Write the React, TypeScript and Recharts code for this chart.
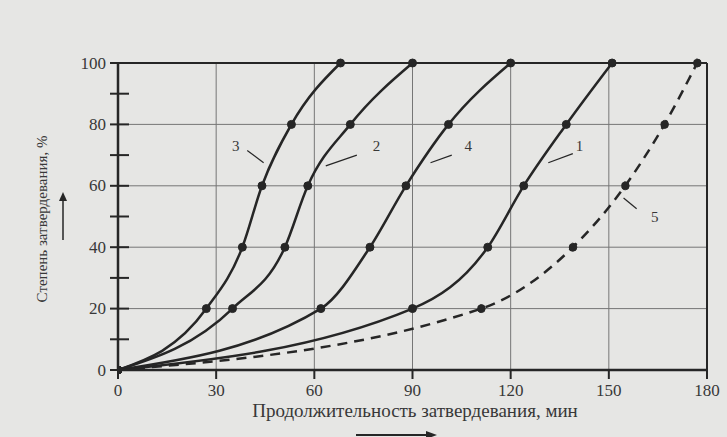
import React from "react";
import {
  LineChart,
  Line,
  XAxis,
  YAxis,
  ReferenceLine,
  ReferenceDot,
} from "recharts";

// степень затвердевания, % (одинаковая для всех кривых)
const degree = [0, 20, 40, 60, 80, 100];

// продолжительность, мин — для каждой кривой
const curve1 = [0, 90, 113, 124, 137, 151];
const curve2 = [0, 35, 51, 58, 71, 90];
const curve3 = [0, 27, 38, 44, 53, 68];
const curve4 = [0, 62, 77, 88, 101, 120];
const curve5 = [0, 111, 139, 155, 167, 177];

const xTicks = [0, 30, 60, 90, 120, 150, 180];
const yTicks = [0, 10, 20, 30, 40, 50, 60, 70, 80, 90, 100];
const gridX = [30, 60, 90, 120, 150];
const gridY = [20, 40, 60, 80];

// подписи кривых: номер, позиция текста, выноска
const labels = [
  { name: "3", tx: 36, ty: 73, x1: 39.5, y1: 71.5, x2: 44.5, y2: 67.5 },
  { name: "2", tx: 79, ty: 73, x1: 73, y1: 70, x2: 63.5, y2: 66.5 },
  { name: "4", tx: 107, ty: 73, x1: 102, y1: 70, x2: 95.5, y2: 67.5 },
  { name: "1", tx: 141, ty: 73, x1: 139, y1: 70.5, x2: 131.5, y2: 67.5 },
  { name: "5", tx: 164, ty: 50, x1: 154.5, y1: 56, x2: 158.5, y2: 52.5 },
];

const toData = (times: number[]) =>
  times.map((t, i) => ({ t, p: degree[i] }));

const ink = "#262626";
const textInk = "#383838";
const serif = "'Liberation Serif', 'DejaVu Serif', serif";

const YTick = (props: any) => {
  const { x, y, payload } = props;
  const major = payload.value % 20 === 0;
  return (
    <g>
      <line
        x1={x - (major ? 8 : 8)}
        x2={x + 11}
        y1={y}
        y2={y}
        stroke={ink}
        strokeWidth={2}
      />
      {major && (
        <text
          x={x - 12}
          y={y}
          textAnchor="end"
          dominantBaseline="central"
          fontFamily={serif}
          fontSize={17}
          fill={textInk}
        >
          {payload.value}
        </text>
      )}
    </g>
  );
};

const App: React.FC = () => {
  const series = [curve1, curve2, curve3, curve4];
  return (
    <div
      style={{
        position: "relative",
        width: 727,
        height: 437,
        background: "#e6e6e4",
        fontFamily: serif,
      }}
    >
      <style>{`body{margin:0}`}</style>
      <LineChart
        width={727}
        height={437}
        margin={{ top: 63, right: 20, left: 58, bottom: 37 }}
      >
        <XAxis
          type="number"
          dataKey="t"
          domain={[0, 180]}
          ticks={xTicks}
          allowDataOverflow
          axisLine={{ stroke: ink, strokeWidth: 2.5 }}
          tickLine={{ stroke: ink, strokeWidth: 2 }}
          tickSize={9}
          tickMargin={5}
          height={30}
          tick={{ fontFamily: serif, fontSize: 17, fill: textInk }}
        />
        <YAxis
          type="number"
          dataKey="p"
          domain={[0, 100]}
          ticks={yTicks}
          width={60}
          axisLine={{ stroke: ink, strokeWidth: 2.5 }}
          tickLine={false}
          tickSize={0}
          tickMargin={0}
          tick={<YTick />}
        />
        {gridX.map((v) => (
          <ReferenceLine key={"gx" + v} x={v} stroke="#767676" strokeWidth={1} />
        ))}
        {gridY.map((v) => (
          <ReferenceLine key={"gy" + v} y={v} stroke="#767676" strokeWidth={1} />
        ))}
        <ReferenceLine y={100} stroke={ink} strokeWidth={2} />
        <ReferenceLine x={180} stroke={ink} strokeWidth={2} />
        {series.map((s, i) => (
          <Line
            key={i}
            data={toData(s)}
            dataKey="p"
            type="monotone"
            stroke={ink}
            strokeWidth={2.5}
            dot={{ r: 4, fill: ink, stroke: ink, strokeWidth: 1 }}
            isAnimationActive={false}
          />
        ))}
        <Line
          data={toData(curve5)}
          dataKey="p"
          type="monotone"
          stroke={ink}
          strokeWidth={2.5}
          strokeDasharray="10 7"
          dot={{ r: 4, fill: ink, stroke: ink, strokeWidth: 1 }}
          isAnimationActive={false}
        />
        {labels.map((l) => (
          <ReferenceLine
            key={"ll" + l.name}
            segment={[
              { x: l.x1, y: l.y1 },
              { x: l.x2, y: l.y2 },
            ]}
            stroke={ink}
            strokeWidth={1.2}
          />
        ))}
        {labels.map((l) => (
          <ReferenceDot
            key={"lt" + l.name}
            x={l.tx}
            y={l.ty}
            r={0}
            stroke="none"
            fill="none"
            label={{
              value: l.name,
              position: "center",
              fontFamily: serif,
              fontSize: 15,
              fill: textInk,
            }}
          />
        ))}
      </LineChart>
      <svg
        width={727}
        height={437}
        style={{ position: "absolute", left: 0, top: 0, pointerEvents: "none" }}
      >
        <text
          transform="translate(42,219) rotate(-90)"
          textAnchor="middle"
          dominantBaseline="central"
          fontFamily={serif}
          fontSize={15}
          fill={textInk}
        >
          Степень затвердевания, %
        </text>
        <line x1={63} y1={240} x2={63} y2={198} stroke={ink} strokeWidth={1.5} />
        <path d="M59,201 L63,192 L67,201 Z" fill={ink} />
        <text
          x={415}
          y={410}
          textAnchor="middle"
          dominantBaseline="central"
          fontFamily={serif}
          fontSize={19}
          fill={textInk}
        >
          Продолжительность затвердевания, мин
        </text>
        <line x1={356} y1={435} x2={430} y2={435} stroke={ink} strokeWidth={2} />
        <path d="M426,431 L437,435 L426,439 Z" fill={ink} />
      </svg>
    </div>
  );
};

export default App;
